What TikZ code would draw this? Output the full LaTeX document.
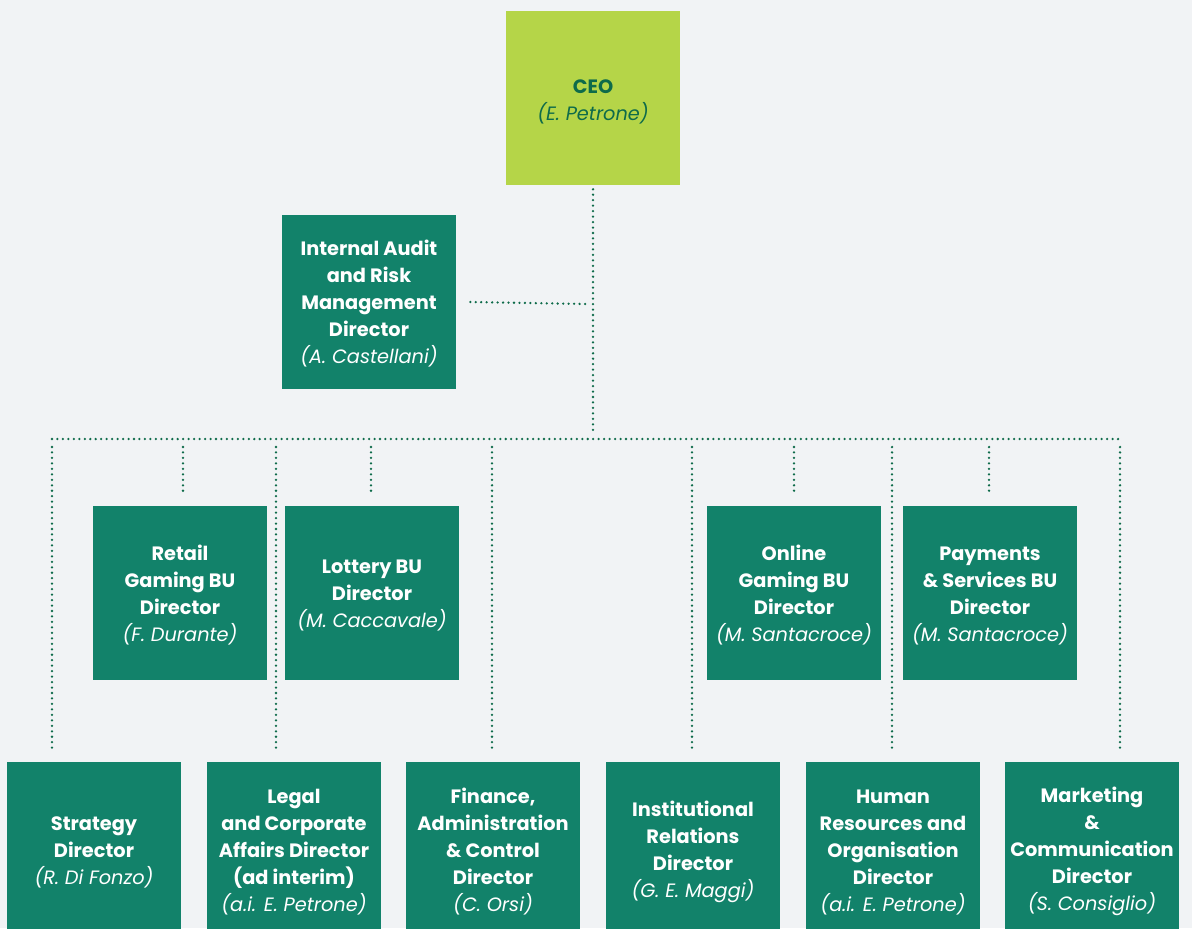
\documentclass[tikz,border=0pt]{standalone}
\usepackage{fontspec}
\setmainfont{Poppins}
\definecolor{bg}{HTML}{F1F3F5}
\definecolor{teal}{HTML}{12826A}
\definecolor{lime}{HTML}{B5D548}
\definecolor{dk}{HTML}{0E6B4A}
\tikzset{
  box/.style={fill=teal, text=white, minimum width=130.5pt, minimum height=130.5pt, inner sep=0pt, align=center, font=\fontsize{14.5}{20.25}\selectfont},
  bbox/.style={box, minimum height=132pt},
  ceobox/.style={box, fill=lime, text=dk},
  dotline/.style={draw=dk, line width=1.9pt, line cap=round, dash pattern=on 0pt off 4.1pt},
}
\newcommand{\nm}[1]{{\normalfont\itshape #1}}
\newcommand{\tl}{\rule{0pt}{14pt}}
\begin{document}
\begin{tikzpicture}[x=0.75pt,y=-0.75pt]
\fill[bg] (0,0) rectangle (1192,928);
\useasboundingbox (0,0) rectangle (1192,928);
% top
\node[ceobox] (ceo) at (593,98) {\rule{0pt}{16pt}\bfseries CEO\\\nm{(E. Petrone)}};
\node[box] (audit) at (369,302) {\tl\bfseries Internal Audit\\\bfseries and Risk\\\bfseries Management\\\bfseries Director\\\nm{(A. Castellani)}};
% middle
\node[box] (retail) at (180,593) {\tl\bfseries Retail\\\bfseries Gaming BU\\\bfseries Director\\\nm{(F. Durante)}};
\node[box] (lottery) at (372,593) {\tl\bfseries Lottery BU\\\bfseries Director\\\nm{(M. Caccavale)}};
\node[box] (online) at (794,593) {\tl\bfseries Online\\\bfseries Gaming BU\\\bfseries Director\\\nm{(M. Santacroce)}};
\node[box] (pay) at (990,593) {\tl\bfseries Payments\\\bfseries \& Services BU\\\bfseries Director\\\nm{(M. Santacroce)}};
% bottom
\node[bbox] (strat) at (94,850) {\tl\bfseries Strategy\\\bfseries Director\\\nm{(R. Di Fonzo)}};
\node[bbox] (legal) at (294,850) {\tl\bfseries Legal\\\bfseries and Corporate\\\bfseries Affairs Director\\\bfseries (ad interim)\\\nm{(a.i. E. Petrone)}};
\node[bbox] (fin) at (493,850) {\tl\bfseries Finance,\\\bfseries Administration\\\bfseries \& Control\\\bfseries Director\\\nm{(C. Orsi)}};
\node[bbox] (inst) at (693,850) {\tl\bfseries Institutional\\\bfseries Relations\\\bfseries Director\\\nm{(G. E. Maggi)}};
\node[bbox] (hr) at (893,850) {\tl\bfseries Human\\\bfseries Resources and\\\bfseries Organisation\\\bfseries Director\\\nm{(a.i. E. Petrone)}};
\node[bbox] (mkt) at (1092,850) {\tl\bfseries Marketing\\\bfseries \&\\\bfseries Communication\\\bfseries Director\\\nm{(S. Consiglio)}};
% connectors
\coordinate (hub) at (593,432);
\coordinate (auditj) at (586,304);
\coordinate (busL) at (52,439);
\coordinate (busR) at (1120,439);
\draw[dotline] (ceo.south) ++(0,4) -- (hub);
\draw[dotline] (audit.east) ++(14,0) -- (auditj);
\draw[dotline] (busL) -- (busR);
\foreach \x/\n in {52/strat,276/legal,492/fin,692/inst,892/hr,1120/mkt}{
  \coordinate (t\n) at (\x,447);
  \draw[dotline] (t\n) -- (\x,750);
}
\foreach \x/\n in {183/retail,371/lottery,794/online,989/pay}{
  \coordinate (t\n) at (\x,447);
  \draw[dotline] (t\n) -- (\x,496);
}
\end{tikzpicture}
\end{document}
